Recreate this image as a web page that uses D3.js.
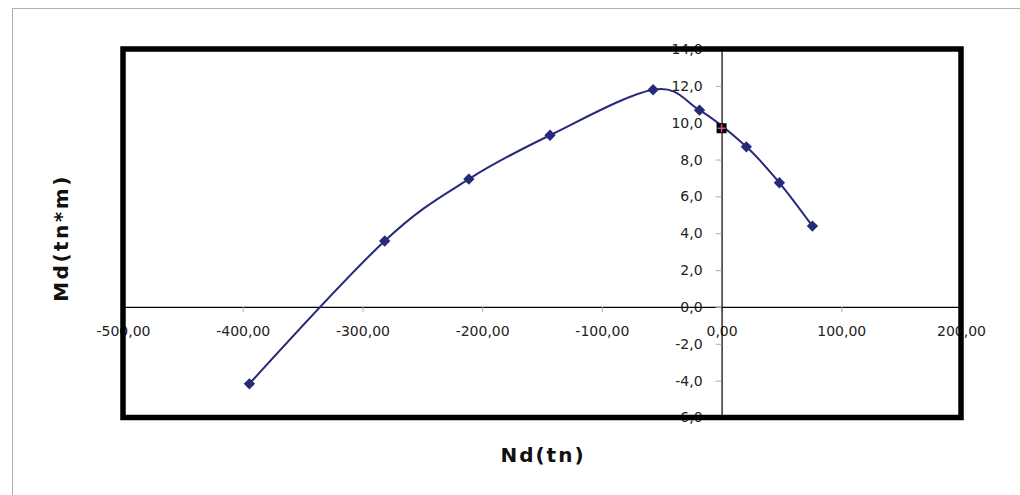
<!DOCTYPE html>
<html>
<head>
<meta charset="utf-8">
<script src="https://cdn.jsdelivr.net/npm/d3@7/dist/d3.min.js"></script>
<style>
  html, body { margin: 0; padding: 0; background: #fff; }
  svg { display: block; }
</style>
</head>
<body>
<svg id="chart" width="1020" height="495"></svg>
<script>
// Data
const ndValues = [-394.4, -281.4, -211.1, -143.3, -57.2, -18.4, 20.7, 48.3, 75.9];
const mdValues = [-4.17, 3.58, 6.94, 9.32, 11.79, 10.68, 8.69, 6.74, 4.39];
const originNd = [0];
const originMd = [9.7];
const xTicks = [-500, -400, -300, -200, -100, 0, 100, 200];
const yTicks = [-6, -4, -2, 0, 2, 4, 6, 8, 10, 12, 14];
const xTitle = "Nd(tn)";
const yTitle = "Md(tn*m)";

const svg = d3.select("#chart");
const x = d3.scaleLinear().domain([-500, 200]).range([123, 961]);
const y = d3.scaleLinear().domain([-6, 14]).range([417.5, 49]);
const fmt1 = d => d.toFixed(1).replace(".", ",");
const fmt2 = d => d.toFixed(2).replace(".", ",");

// outer gray frame
svg.append("rect").attr("x", 12.5).attr("y", 8.5).attr("width", 1100).attr("height", 600)
  .attr("fill", "none").attr("stroke", "#b0b0b0").attr("stroke-width", 1);

// X axis at y=0
const xAxis = d3.axisBottom(x).tickValues(xTicks).tickSize(5).tickFormat(fmt2).tickPadding(14);
const gx = svg.append("g").attr("transform", `translate(0,${y(0)})`).call(xAxis);
gx.select(".domain").attr("stroke", "#000").attr("stroke-width", 1.2);
gx.selectAll(".tick line").attr("stroke", "#aaa");
gx.selectAll(".tick text").attr("font-family", "DejaVu Sans").attr("font-size", 14)
  .attr("fill", "#222");

// Y axis at x=0
const yAxis = d3.axisLeft(y).tickValues(yTicks).tickSize(6).tickFormat(fmt1).tickPadding(13);
const gy = svg.append("g").attr("transform", `translate(${x(0)},0)`).call(yAxis);
gy.select(".domain").attr("stroke", "#000").attr("stroke-width", 1.2);
gy.selectAll(".tick line").attr("stroke", "#aaa");
gy.selectAll(".tick text").attr("font-family", "DejaVu Sans").attr("font-size", 14)
  .attr("fill", "#222");

// thick plot border
svg.append("rect")
  .attr("x", x(-500)).attr("y", y(14))
  .attr("width", x(200) - x(-500)).attr("height", y(-6) - y(14))
  .attr("fill", "none").attr("stroke", "#000").attr("stroke-width", 5.5);

// curve
const pts = ndValues.map((v, i) => [v, mdValues[i]]);
const line = d3.line().x(d => x(d[0])).y(d => y(d[1])).curve(d3.curveCardinal.tension(0));
svg.append("path").attr("d", line(pts)).attr("fill", "none")
  .attr("stroke", "#262a7a").attr("stroke-width", 2);

// diamond markers
svg.selectAll(".mk").data(pts).enter().append("path")
  .attr("transform", d => `translate(${x(d[0])},${y(d[1])}) rotate(45)`)
  .attr("d", "M-4,-4H4V4H-4Z").attr("fill", "#262a7a");

// origin marker (black square with magenta plus)
const op = originNd.map((v, i) => [v, originMd[i]]);
const og = svg.selectAll(".om").data(op).enter().append("g")
  .attr("transform", d => `translate(${x(d[0])},${y(d[1])})`);
og.append("rect").attr("x", -5).attr("y", -5).attr("width", 10).attr("height", 10).attr("fill", "#000");
og.append("path").attr("d", "M-4,0H4M0,-4V4").attr("stroke", "#d04aa8").attr("stroke-width", 1.5);

// axis titles
svg.append("text").text(xTitle)
  .attr("x", 543).attr("y", 462).attr("text-anchor", "middle")
  .attr("font-family", "DejaVu Sans").attr("font-weight", "bold").attr("font-size", 20)
  .attr("letter-spacing", 2).attr("fill", "#111");
svg.append("text").text(yTitle)
  .attr("transform", "translate(68,238) rotate(-90)").attr("text-anchor", "middle")
  .attr("font-family", "DejaVu Sans").attr("font-weight", "bold").attr("font-size", 20)
  .attr("letter-spacing", 2.5).attr("fill", "#111");
</script>
</body>
</html>
